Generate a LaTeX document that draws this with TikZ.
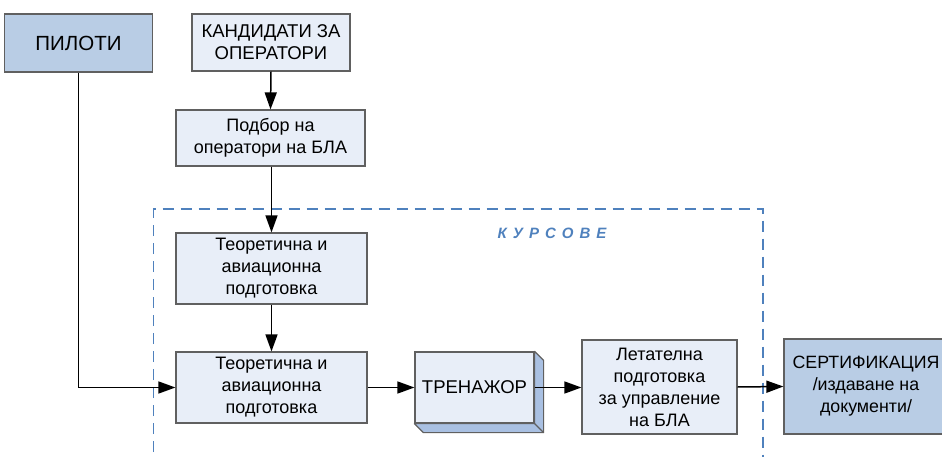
\documentclass[tikz,border=0pt]{standalone}
\usepackage{fontspec}
\setmainfont{Liberation Sans}
\usetikzlibrary{arrows.meta}
\definecolor{lightbox}{HTML}{E8EEF8}
\definecolor{darkbox}{HTML}{B9CDE5}
\definecolor{sidebox}{HTML}{A9C0E2}
\definecolor{dashblue}{HTML}{4F81BD}
\definecolor{bordergray}{HTML}{606060}
\newcommand{\lsp}{\hspace{6pt}}
\tikzset{
  boxbase/.style={draw=bordergray, line width=1.2pt, inner sep=2pt, align=center, text=black},
  lightnode/.style={boxbase, fill=lightbox},
  darknode/.style={boxbase, fill=darkbox},
  conn/.style={line width=1.5pt, -{Triangle[length=17pt,width=12pt]}},
}
\begin{document}
\begin{tikzpicture}[x=1pt,y=-1pt]
\useasboundingbox (0,0) rectangle (942,457);
\clip (0,0) rectangle (942,457);
% dashed frame
\draw[dashblue, line width=1.6pt, dash pattern=on 11pt off 7pt] (153.5,470) -- (153.5,209) -- (763,209) -- (763,470);
\node[text=dashblue, font=\fontsize{15}{18}\selectfont\bfseries\itshape] (kurs) at (552,233) {К\lsp У\lsp Р\lsp С\lsp О\lsp В\lsp Е};
% nodes
\node[darknode, minimum width=148pt, minimum height=58pt, font=\fontsize{20.5}{24}\selectfont] (pil) at (78.5,43) {ПИЛОТИ};
\node[lightnode, minimum width=158pt, minimum height=57pt, font=\fontsize{18.5}{22}\selectfont] (kand) at (271,42.5) {КАНДИДАТИ ЗА\\ОПЕРАТОРИ};
\node[lightnode, minimum width=189pt, minimum height=56pt, font=\fontsize{18}{22}\selectfont] (podb) at (270.5,138) {Подбор на\\оператори на БЛА};
\node[lightnode, minimum width=191pt, minimum height=71pt, font=\fontsize{18}{22}\selectfont] (teo1) at (271.5,268.5) {Теоретична и\\авиационна\\подготовка};
\node[lightnode, minimum width=191pt, minimum height=71pt, font=\fontsize{18}{22}\selectfont] (teo2) at (271.5,387.5) {Теоретична и\\авиационна\\подготовка};
\node[lightnode, minimum width=119pt, minimum height=71pt, font=\fontsize{18.5}{22}\selectfont] (tren) at (474.5,387.5) {ТРЕНАЖОР};
\fill[sidebox, draw=bordergray, line width=1.2pt, line join=round]
  (tren.north east) -- ([shift={(9,9)}]tren.north east) -- ([shift={(9,9)}]tren.south east)
  -- ([shift={(9,9)}]tren.south west) -- (tren.south west) -- (tren.south east) -- cycle;
\draw[bordergray, line width=1.2pt] (tren.south east) -- ([shift={(9,9)}]tren.south east);
\node[lightnode, minimum width=155pt, minimum height=94pt, font=\fontsize{18}{22}\selectfont] (let) at (659.5,387) {Летателна\\подготовка\\за управление\\на БЛА};
\node[darknode, minimum width=164pt, minimum height=95pt, font=\fontsize{17.8}{22}\selectfont] (cert) at (866,386.5) {СЕРТИФИКАЦИЯ\\/издаване на\\документи/};
% connectors
\draw[conn] (kand.south) -- (podb.north);
\draw[conn] (podb.south -| teo1.north) -- (teo1.north);
\draw[conn] (teo1.south) -- (teo2.north);
\draw[conn] (pil.south) |- (teo2.west);
\draw[conn] (teo2.east) -- (tren.west);
\draw[conn] (tren.east) -- (let.west |- tren.east);
\draw[conn] (let.east) -- (cert.west);
\end{tikzpicture}
\end{document}
